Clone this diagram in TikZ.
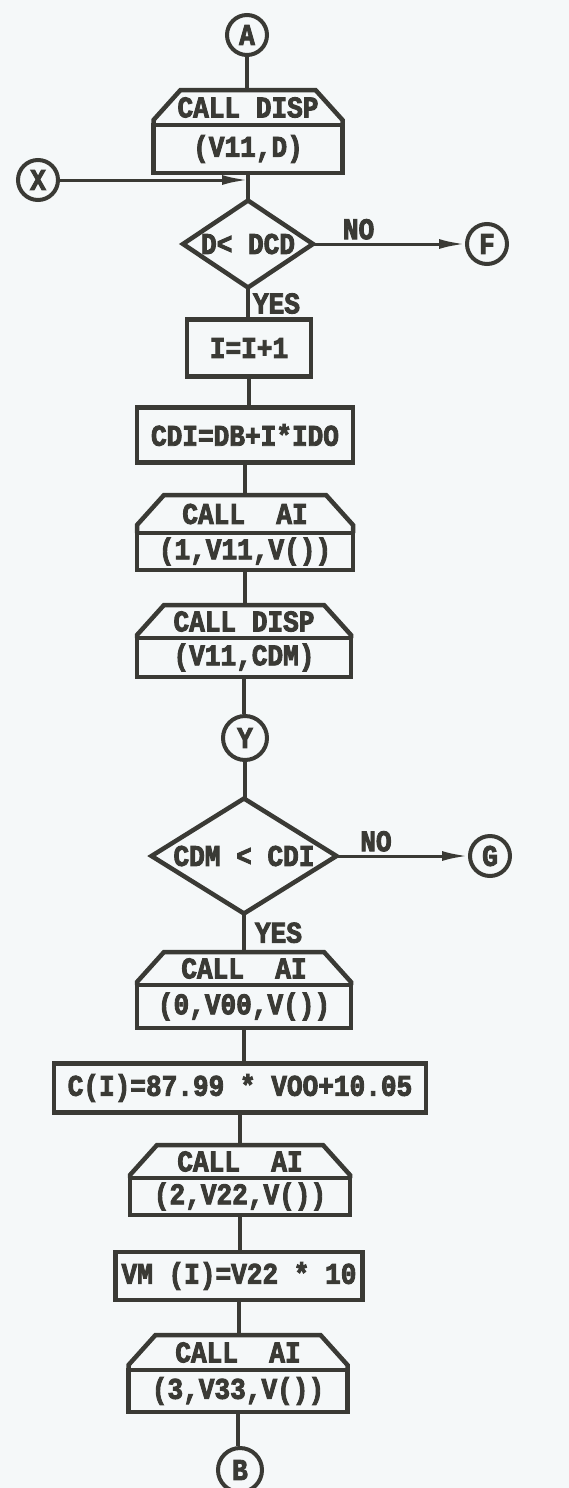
\documentclass[tikz,border=0pt]{standalone}
\usepackage{fontspec}
\usepackage{tikz}
\usetikzlibrary{arrows.meta,positioning,shapes.geometric}
\newfontfamily\flowfont{Liberation Mono}[FakeStretch=0.87,
  BoldFeatures={FakeBold=3}]
\definecolor{ink}{HTML}{3A3A35}
\definecolor{paper}{HTML}{F5F8F9}
\tikzset{
  flow/.style={font={\flowfont\bfseries\fontsize{30}{32}\selectfont},text=ink},
  boxline/.style={draw=ink,line width=4.5pt},
  procbox/.style={flow,boxline,rectangle,inner sep=0pt,outer sep=0pt},
  calltop/.style={flow,rectangle,inner sep=0pt,outer sep=0pt,
                  minimum height=35pt,minimum width=#1},
  callbot/.style={flow,boxline,rectangle,inner sep=0pt,outer sep=0pt,
                  minimum height=40pt,minimum width=#1},
  testbox/.style={flow,boxline,diamond,inner sep=0pt,outer sep=0pt},
  conn/.style={flow,draw=ink,line width=4pt,circle,inner sep=0pt,
               minimum size=40pt},
  link/.style={draw=ink,line width=4pt},
  sidearr/.style={draw=ink,line width=3pt,-{Latex[length=26pt,width=10pt]}},
  yesno/.style={flow,inner sep=3pt}
}
\begin{document}
\begin{tikzpicture}[x=1pt,y=1pt]
    \path[use as bounding box] (0,0) rectangle (569,-1488);
    \fill[paper] (0,0) rectangle (569,-1488);
    % connectors and top of the chart
    \node[conn] (A) at (247,-35) {A};
    \node[calltop=189pt,anchor=south] (disp1t) at (248,-125) {CALL DISP};
    \node[callbot=189pt,minimum height=48pt,anchor=north] (disp1)
      at (disp1t.south) {(V11,D)};
    \node[conn] (X) at (38,-180) {X};
    \coordinate (jx) at (disp1.south |- X);
    \node[testbox,aspect=1.5,minimum width=130pt,minimum height=87pt] (dcd)
      at (248,-244) {D< DCD};
    \node[conn] (F) at (487,-244) {F};
    \node[procbox,minimum width=124pt,minimum height=57pt] (inc)
      at (249,-348) {I=I+1};
    \node[procbox,minimum width=216pt,minimum height=55pt] (cdi)
      at (245,-435) {CDI=DB+I*IDO};
    \node[calltop=216pt,minimum height=38pt,anchor=south] (ai1t)
      at (245,-533) {CALL~~AI};
    \node[callbot=216pt,minimum height=37pt,anchor=north] (ai1)
      at (ai1t.south) {(1,V11,V())};
    \node[calltop=214pt,minimum height=33pt,anchor=south] (disp2t)
      at (244,-638) {CALL DISP};
    \node[callbot=214pt,minimum height=39pt,anchor=north] (disp2)
      at (disp2t.south) {(V11,CDM)};
    \node[conn,minimum size=44pt] (Y) at (245,-738) {Y};
    \node[testbox,aspect=1.6,minimum width=185pt,minimum height=115pt] (cdm)
      at (244,-856) {CDM < CDI};
    \node[conn] (G) at (490,-856) {G};
    % lower part
    \node[calltop=214pt,minimum height=33pt,anchor=south] (ai0t)
      at (244,-985) {CALL~~AI};
    \node[callbot=214pt,minimum height=43pt,anchor=north] (ai0)
      at (ai0t.south) {(0,V00,V())};
    \node[procbox,minimum width=372pt,minimum height=49pt] (cval)
      at (240,-1088) {C(I)=87.99 * VOO+10.05};
    \node[calltop=220pt,minimum height=33pt,anchor=south] (ai2t)
      at (240,-1178) {CALL~~AI};
    \node[callbot=220pt,minimum height=37pt,anchor=north] (ai2)
      at (ai2t.south) {(2,V22,V())};
    \node[procbox,minimum width=247pt,minimum height=48pt] (vm)
      at (239,-1276) {VM (I)=V22 * 10};
    \node[calltop=219pt,anchor=south] (ai3t) at (238,-1370) {CALL~~AI};
    \node[callbot=219pt,minimum height=42pt,anchor=north] (ai3)
      at (ai3t.south) {(3,V33,V())};
    \node[conn,minimum size=44pt] (B) at (240,-1470) {B};

    % chamfered tops of the call boxes
    \foreach \n in {disp1t,ai1t,disp2t,ai0t,ai2t,ai3t}
      \draw[boxline] (\n.south west) -- ([yshift=-30pt]\n.north west)
        -- ([xshift=27pt]\n.north west) -- ([xshift=-27pt]\n.north east)
        -- ([yshift=-30pt]\n.north east) -- (\n.south east);

    \draw[link] (A.south) -- (A.south |- disp1t.north);
    \draw[link] (disp1.south) -- (disp1.south |- dcd.north);
    \draw[sidearr] (X) -- (jx);
    \draw[sidearr] (dcd.east) -- node[yesno,above,pos=0.3] {NO} (F);
    \draw[link] (dcd.south) -- node[yesno,right] {YES}
      (dcd.south |- inc.north);
    \draw[link] (inc.south) -- (inc.south |- cdi.north);
    \draw[link] (cdi.south) -- (cdi.south |- ai1t.north);
    \draw[link] (ai1.south) -- (ai1.south |- disp2t.north);
    \draw[link] (disp2.south) -- (disp2.south |- Y.north);
    \draw[link] (Y.south) -- (Y.south |- cdm.north);
    \draw[sidearr] (cdm.east) -- node[yesno,above,pos=0.3] {NO} (G);
    \draw[link] (cdm.south) -- node[yesno,right,xshift=6pt] {YES}
      (cdm.south |- ai0t.north);
    \draw[link] (ai0.south) -- (ai0.south |- cval.north);
    \draw[link] (cval.south) -- (cval.south |- ai2t.north);
    \draw[link] (ai2.south) -- (ai2.south |- vm.north);
    \draw[link] (vm.south) -- (vm.south |- ai3t.north);
    \draw[link] (ai3.south) -- (ai3.south |- B.north);
\end{tikzpicture}
\end{document}
